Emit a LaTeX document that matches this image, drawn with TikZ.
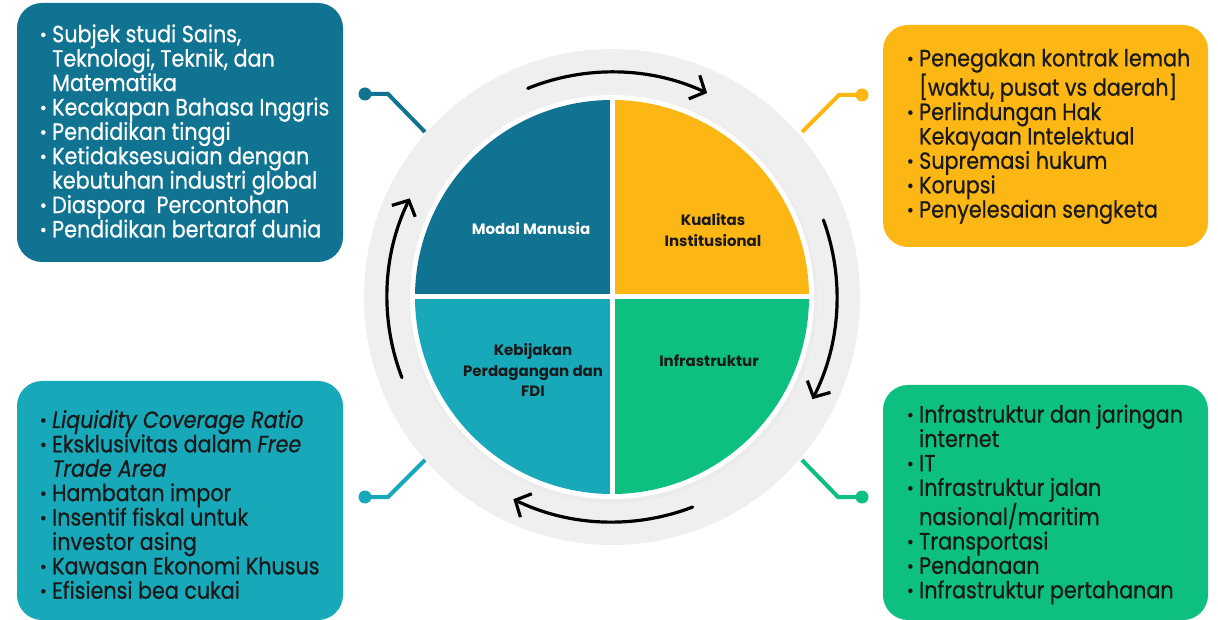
\documentclass[tikz,border=0pt]{standalone}
\usepackage{fontspec}
\setmainfont{Poppins}[FakeStretch=0.88,FakeBold=0.6]
\newfontfamily\lblfont{Poppins}
\usetikzlibrary{arrows.meta}
\definecolor{cTL}{RGB}{15,115,145}
\definecolor{cTR}{RGB}{253,183,20}
\definecolor{cBL}{RGB}{23,168,185}
\definecolor{cBR}{RGB}{13,192,127}
\definecolor{ringgray}{RGB}{239,239,239}
\definecolor{txt}{RGB}{25,25,25}
\newcommand{\bitem}[1]{\makebox[12pt][l]{\textbf{·}}#1}
\newcommand{\bcont}[1]{\hspace*{12pt}#1}
\begin{document}
\begin{tikzpicture}[x=1pt,y=1pt,
  box/.style={rounded corners=25pt, minimum width=326pt, inner sep=0pt, draw=none},
  btext/.style={anchor=west, align=left, inner sep=0pt, font=\fontsize{23.5}{24.4}\selectfont},
  qlabel/.style={align=center, font=\lblfont\fontsize{15}{20.5}\selectfont\bfseries, inner sep=0pt},
  conn/.style={line width=4pt},
  cyc/.style={line width=3.2pt, line cap=round, -{Straight Barb[length=12pt,width=26pt]}}]
\useasboundingbox (0,0) rectangle (1218,619);
\fill[white] (0,0) rectangle (1218,619);
\coordinate (c) at (612,322);
% ring
\fill[ringgray] (c) circle (248);
\fill[black!8] (613,320) circle (204);
\fill[white] (c) circle (202);
% quadrants
\fill[cTL] (c) -- ++(-197,0) arc[start angle=180,end angle=90,radius=197] -- cycle;
\fill[cTR] (c) -- ++(0,197) arc[start angle=90,end angle=0,radius=197] -- cycle;
\fill[cBR] (c) -- ++(197,0) arc[start angle=0,end angle=-90,radius=197] -- cycle;
\fill[cBL] (c) -- ++(0,-197) arc[start angle=270,end angle=180,radius=197] -- cycle;
\draw[white, line width=5pt] ([yshift=-200]c) -- ([yshift=200]c);
\draw[white, line width=5pt] ([xshift=-200]c) -- ([xshift=200]c);
% quadrant labels
\node[qlabel, white] (qtl) at (531,390) {Modal Manusia};
\node[qlabel, txt] (qtr) at (713,389) {Kualitas\\Institusional};
\node[qlabel, txt] (qbl) at (533,249) {Kebijakan\\Perdagangan dan\\FDI};
\node[qlabel, txt] (qbr) at (709,258) {Infrastruktur};
% cycle arrows
\draw[cyc] ([shift={(112:225)}]c) arc[start angle=112,end angle=65,radius=225];
\draw[cyc] ([shift={(20:225)}]c) arc[start angle=20,end angle=-27,radius=225];
\draw[cyc] ([shift={(-69:225)}]c) arc[start angle=-69,end angle=-116,radius=225];
\draw[cyc] ([shift={(201:225)}]c) arc[start angle=201,end angle=154,radius=225];
% boxes
\node[box, fill=cTL, minimum height=259pt] (tlbox) at (180,486.5) {};
\node[box, fill=cTR, minimum width=325pt, minimum height=222pt] (trbox) at (1045.5,483) {};
\node[box, fill=cBL, minimum height=239pt] (blbox) at (180,118.5) {};
\node[box, fill=cBR, minimum width=325pt, minimum height=235pt] (brbox) at (1045.5,116.5) {};
% box texts
\node[btext, white] (tltext) at (40,488) {\bitem{Subjek studi Sains,}\\
\bcont{Teknologi, Teknik, dan}\\
\bcont{Matematika}\\
\bitem{Kecakapan Bahasa Inggris}\\
\bitem{Pendidikan tinggi}\\
\bitem{Ketidaksesuaian dengan}\\
\bcont{kebutuhan industri global}\\
\bitem{Diaspora\ \ Percontohan}\\
\bitem{Pendidikan bertaraf dunia}};
\node[btext, txt] (trtext) at (907,482.5) {\bitem{Penegakan kontrak lemah}\\
\bcont{[waktu, pusat vs daerah]}\\
\bitem{Perlindungan Hak}\\
\bcont{Kekayaan Intelektual}\\
\bitem{Supremasi hukum}\\
\bitem{Korupsi}\\
\bitem{Penyelesaian sengketa}};
\node[btext, txt] (bltext) at (40,114.5) {\bitem{\textit{Liquidity Coverage Ratio}}\\
\bitem{Eksklusivitas dalam \textit{Free}}\\
\bcont{\textit{Trade Area}}\\
\bitem{Hambatan impor}\\
\bitem{Insentif fiskal untuk}\\
\bcont{investor asing}\\
\bitem{Kawasan Ekonomi Khusus}\\
\bitem{Efisiensi bea cukai}};
\node[btext, txt] (brtext) at (907,114.5) {\bitem{Infrastruktur dan jaringan}\\
\bcont{internet}\\
\bitem{IT}\\
\bitem{Infrastruktur jalan}\\
\bcont{nasional/maritim}\\
\bitem{Transportasi}\\
\bitem{Pendanaan}\\
\bitem{Infrastruktur pertahanan}};
% connectors
\coordinate (tldot) at (365,525); \coordinate (tlend) at (425,487);
\coordinate (trdot) at (862,524); \coordinate (trend) at (802,487);
\coordinate (bldot) at (365,122); \coordinate (blend) at (425,159);
\coordinate (brdot) at (862,122); \coordinate (brend) at (802,159);
\fill[cTL] (tldot) circle (6.5);
\draw[conn, cTL] (tldot) -- ++(23,0) -- (tlend);
\fill[cTR] (trdot) circle (6.5);
\draw[conn, cTR] (trdot) -- ++(-23,0) -- (trend);
\fill[cBL] (bldot) circle (6.5);
\draw[conn, cBL] (bldot) -- ++(23,0) -- (blend);
\fill[cBR] (brdot) circle (6.5);
\draw[conn, cBR] (brdot) -- ++(-24,0) -- (brend);
\end{tikzpicture}
\end{document}
